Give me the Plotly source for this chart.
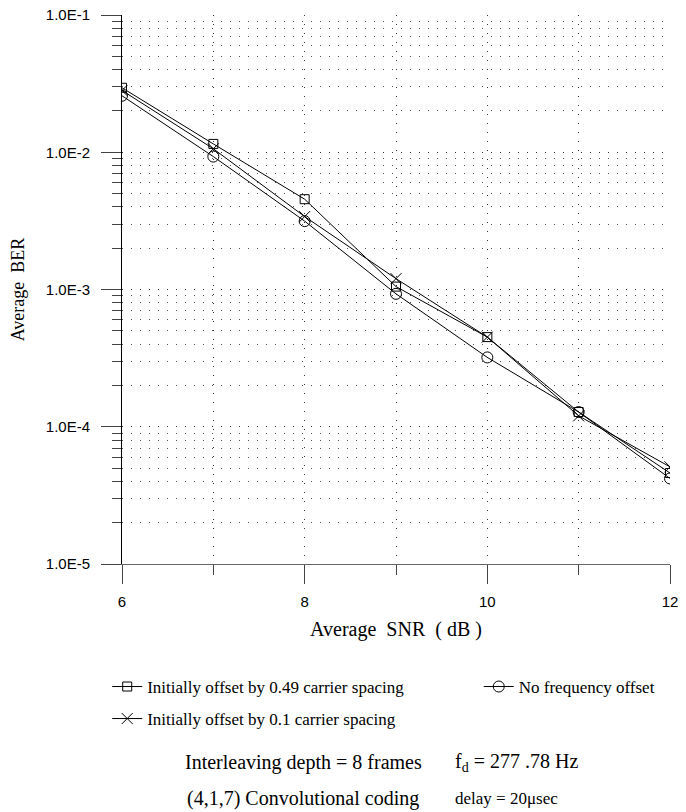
import plotly.graph_objects as go

snr = [6, 7, 8, 9, 10, 11, 12]
ber_049 = [0.0295, 0.0115, 0.00455, 0.00105, 0.00045, 0.000128, 0.000046]
ber_01 = [0.0282, 0.0106, 0.0034, 0.00120, 0.00045, 0.000120, 0.000051]
ber_none = [0.0258, 0.0093, 0.00315, 0.00093, 0.00032, 0.000128, 0.000042]

name_049 = "Initially offset by 0.49 carrier spacing"
name_01 = "Initially offset by 0.1 carrier spacing"
name_none = "No frequency offset"

y_major = [1e-5, 1e-4, 1e-3, 1e-2, 1e-1]
y_major_text = ["1.0E-5", "1.0E-4", "1.0E-3", "1.0E-2", "1.0E-1"]
y_minor = [m * 10.0 ** e for e in range(-5, -1) for m in range(2, 10)]
x_major = [6, 8, 10, 12]
x_minor = [7, 9, 11]

serif = "Liberation Serif, Times New Roman, serif"
sans = "Liberation Sans, Arial, sans-serif"
dots = "1px,8px"

fig = go.Figure()
fig.add_trace(go.Scatter(
    x=snr, y=ber_049, name=name_049, mode="lines+markers",
    line=dict(color="black", width=1),
    marker=dict(symbol="square-open", size=9, color="black", line=dict(width=1)),
    legend="legend",
))
fig.add_trace(go.Scatter(
    x=snr, y=ber_none, name=name_none, mode="lines+markers",
    line=dict(color="black", width=1),
    marker=dict(symbol="circle-open", size=11, color="black", line=dict(width=1)),
    legend="legend3",
))
fig.add_trace(go.Scatter(
    x=snr, y=ber_01, name=name_01, mode="lines+markers",
    line=dict(color="black", width=1),
    marker=dict(symbol="x-thin-open", size=11, color="black", line=dict(width=1)),
    legend="legend2",
))

leg_common = dict(font=dict(family=serif, size=17), bgcolor="rgba(0,0,0,0)",
                  itemsizing="trace", xanchor="left", yanchor="middle", visible=True)

fig.update_layout(
    width=686, height=812,
    showlegend=True,
    margin=dict(l=122, r=16, t=15, b=248, autoexpand=False),
    paper_bgcolor="white", plot_bgcolor="white",
    font=dict(family=serif, color="black", size=14),
    legend=dict(x=-0.027, y=-0.224, **leg_common),
    legend2=dict(x=-0.027, y=-0.2823, **leg_common),
    legend3=dict(x=0.651, y=-0.224, **leg_common),
    xaxis=dict(
        range=[6, 12], tickvals=x_major, ticktext=[str(v) for v in x_major],
        ticks="outside", ticklen=19, tickcolor="#444", tickwidth=1,
        tickfont=dict(family=sans, size=15, color="black"), ticklabelstandoff=5,
        showline=True, linecolor="#666", linewidth=1,
        showgrid=True, gridcolor="#333", griddash=dots, gridwidth=1,
        zeroline=False,
        minor=dict(tickvals=x_minor, ticks="outside", ticklen=10, tickcolor="#444",
                   showgrid=True, gridcolor="#333", griddash=dots, gridwidth=1),
        title=dict(text="Average  SNR  ( dB )", font=dict(family=serif, size=20), standoff=12),
    ),
    yaxis=dict(
        type="log", range=[-5, -1], tickvals=y_major, ticktext=y_major_text,
        ticks="outside", ticklen=20, tickcolor="#444", tickwidth=1,
        tickfont=dict(family=sans, size=15, color="black"), ticklabelstandoff=8,
        showline=True, linecolor="black", linewidth=1,
        showgrid=True, gridcolor="#333", griddash=dots, gridwidth=1,
        zeroline=False,
        minor=dict(tickvals=y_minor, ticks="outside", ticklen=9, tickcolor="#444",
                   showgrid=True, gridcolor="#555", griddash=dots, gridwidth=1),
        title=dict(text="Average  BER", font=dict(family=serif, size=18), standoff=16),
    ),
)

fig.add_annotation(text="Interleaving depth = 8 frames", xref="paper", yref="paper",
                   x=0.111, y=-0.362, xanchor="left", yanchor="middle", showarrow=False,
                   font=dict(family=serif, size=20))
fig.add_annotation(text="f<sub>d</sub> = 277 .78 Hz", xref="paper", yref="paper",
                   x=0.604, y=-0.362, xanchor="left", yanchor="middle", showarrow=False,
                   font=dict(family=serif, size=20))
fig.add_annotation(text="(4,1,7) Convolutional coding", xref="paper", yref="paper",
                   x=0.115, y=-0.427, xanchor="left", yanchor="middle", showarrow=False,
                   font=dict(family=serif, size=20))
fig.add_annotation(text="delay = 20μsec", xref="paper", yref="paper",
                   x=0.604, y=-0.427, xanchor="left", yanchor="middle", showarrow=False,
                   font=dict(family=serif, size=17))

fig.write_html("out.html", config={"displayModeBar": False},
               post_script="document.body.style.margin='0';document.body.style.overflow='hidden';")
